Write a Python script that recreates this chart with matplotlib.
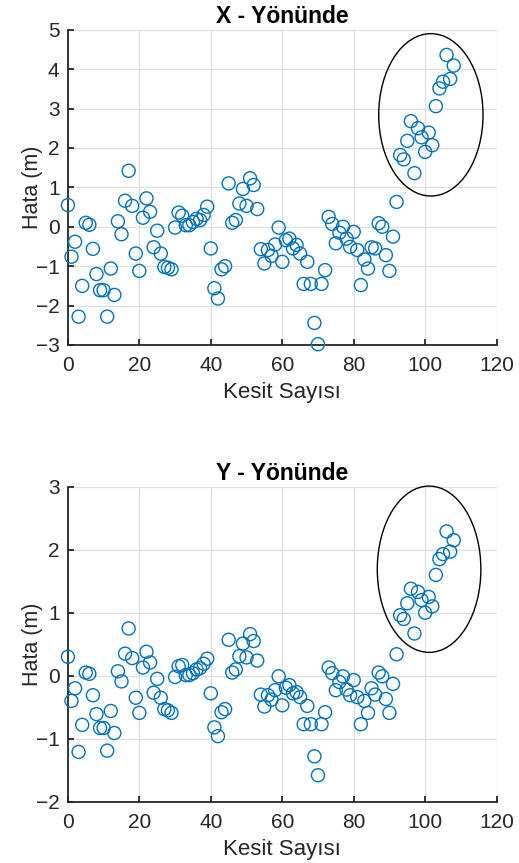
import matplotlib
matplotlib.use("Agg")
import matplotlib.pyplot as plt
from matplotlib.patches import Ellipse

plt.rcParams['font.family'] = ['Liberation Sans', 'DejaVu Sans']

# kesit numaralari
kesit = list(range(0, 109))

# X yonunde hata (m)
hata_x = [0.55, -0.76, -0.38, -2.28, -1.50, 0.10, 0.05, -0.56, -1.20, -1.61,
          -1.61, -2.28, -1.06, -1.73, 0.14, -0.19, 0.66, 1.42, 0.53, -0.68,
          -1.12, 0.23, 0.72, 0.38, -0.52, -0.10, -0.68, -1.02, -1.04, -1.08,
          -0.02, 0.36, 0.28, 0.04, 0.04, 0.12, 0.20, 0.17, 0.30, 0.51,
          -0.55, -1.56, -1.82, -1.08, -1.00, 1.10, 0.10, 0.17, 0.59, 0.96,
          0.53, 1.23, 1.06, 0.45, -0.57, -0.93, -0.59, -0.74, -0.45, -0.02,
          -0.89, -0.34, -0.30, -0.55, -0.46, -0.68, -1.45, -0.89, -1.45, -2.44,
          -2.98, -1.45, -1.10, 0.25, 0.07, -0.42, -0.15, 0.00, -0.30, -0.51,
          -0.13, -0.59, -1.48, -0.83, -1.06, -0.52, -0.55, 0.09, 0.00, -0.72,
          -1.12, -0.25, 0.63, 1.82, 1.71, 2.18, 2.68, 1.36, 2.50, 2.27,
          1.90, 2.39, 2.07, 3.06, 3.51, 3.68, 4.36, 3.75, 4.09]

# Y yonunde hata (m)
hata_y = [0.30, -0.40, -0.20, -1.21, -0.78, 0.05, 0.03, -0.31, -0.61, -0.83,
          -0.83, -1.19, -0.56, -0.91, 0.07, -0.09, 0.35, 0.75, 0.28, -0.35,
          -0.59, 0.13, 0.38, 0.21, -0.27, -0.05, -0.35, -0.53, -0.55, -0.59,
          -0.02, 0.15, 0.17, 0.01, 0.01, 0.04, 0.10, 0.12, 0.19, 0.27,
          -0.28, -0.82, -0.96, -0.58, -0.53, 0.57, 0.05, 0.10, 0.31, 0.51,
          0.29, 0.66, 0.55, 0.24, -0.30, -0.49, -0.31, -0.38, -0.23, -0.01,
          -0.47, -0.19, -0.15, -0.28, -0.26, -0.34, -0.77, -0.48, -0.77, -1.28,
          -1.58, -0.77, -0.58, 0.13, 0.04, -0.23, -0.10, -0.01, -0.22, -0.31,
          -0.07, -0.34, -0.77, -0.40, -0.59, -0.20, -0.30, 0.05, -0.01, -0.37,
          -0.59, -0.13, 0.34, 0.96, 0.90, 1.15, 1.38, 0.67, 1.33, 1.20,
          1.00, 1.25, 1.10, 1.60, 1.85, 1.93, 2.29, 1.97, 2.15]

W, H = 519, 863
fig = plt.figure(figsize=(W / 100, H / 100), dpi=100)

ax1 = fig.add_axes([67.9 / W, 1 - 345 / H, (496.6 - 67.9) / W, (345 - 29.7) / H])
ax2 = fig.add_axes([67.9 / W, 1 - 801.7 / H, (496.6 - 67.9) / W, (801.7 - 486.7) / H])

blue = '#0072BD'
dark = '#262626'

def style(ax, title, ylim, ellipse):
    ax.set_xlim(0, 120)
    ax.set_ylim(*ylim)
    ax.set_xticks(range(0, 121, 20))
    ax.set_yticks(range(ylim[0], ylim[1] + 1))
    ax.grid(True, color='#dfdfdf', linewidth=0.9)
    ax.set_axisbelow(True)
    for s in ['top', 'right']:
        ax.spines[s].set_visible(False)
    for s in ['left', 'bottom']:
        ax.spines[s].set_color(dark)
        ax.spines[s].set_linewidth(1.3)
    ax.tick_params(direction='in', length=4, width=1.3, colors=dark,
                   labelsize=15)
    ax.tick_params(axis='x', pad=8)
    ax.tick_params(axis='y', pad=6)
    ax.set_title(title, fontsize=16.5, fontweight='bold', pad=5)
    ax.set_xlabel('Kesit Sayısı', fontsize=16, labelpad=5, color=dark)
    ax.set_ylabel('Hata (m)', fontsize=15.5, labelpad=-5, color=dark)
    ax.add_patch(Ellipse(ellipse[0], ellipse[1], ellipse[2], fill=False,
                         edgecolor='black', linewidth=1.0, clip_on=False))

ax1.scatter(kesit, hata_x, s=88, facecolors='none', edgecolors=blue,
            linewidths=1.0, clip_on=False, zorder=3)
style(ax1, 'X - Yönünde', (-3, 5), ((101.6, 2.84), 29.2, 4.12))

ax2.scatter(kesit, hata_y, s=88, facecolors='none', edgecolors=blue,
            linewidths=1.0, clip_on=False, zorder=3)
style(ax2, 'Y - Yönünde', (-2, 3), ((101.1, 1.69), 29.0, 2.64))

fig.savefig('out.png', dpi=100)
